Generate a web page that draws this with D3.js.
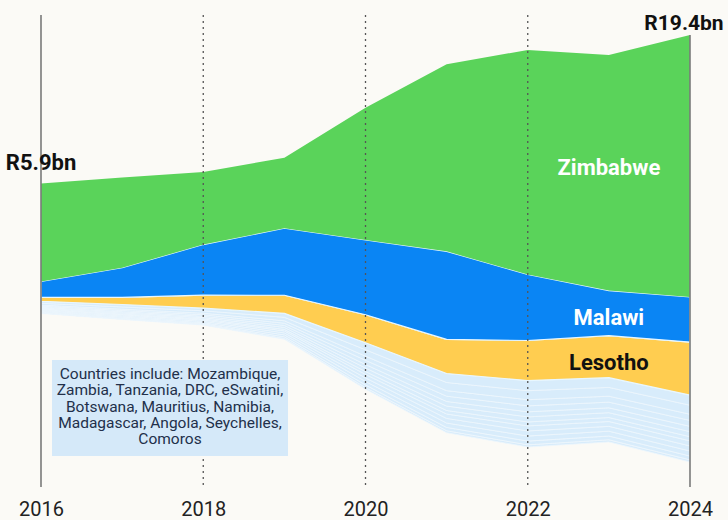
<!DOCTYPE html>
<html>
<head>
<meta charset="utf-8">
<script src="https://cdn.jsdelivr.net/npm/d3@7"></script>
<style>
  body { margin: 0; background: #fbfaf6; }
  svg { display: block; }
</style>
</head>
<body>
<svg id="chart"></svg>
<script>
// years on the x axis
var years = [2016, 2017, 2018, 2019, 2020, 2021, 2022, 2023, 2024];
var tickYears = [2016, 2018, 2020, 2022, 2024];

// values in R bn
var zimbabwe = [4.45, 4.1, 3.3, 3.2, 6.0, 8.5, 10.2, 10.7, 11.9];
var malawi = [0.72, 1.35, 2.3, 3.05, 3.4, 4.0, 3.0, 2.05, 2.05];
var lesotho = [0.18, 0.32, 0.59, 0.82, 1.27, 1.55, 1.82, 1.91, 2.41];

// the smaller countries (thin light blue bands)
var mozambique = [0.09, 0.11, 0.12, 0.18, 0.32, 0.41, 0.46, 0.44, 0.46];
var zambia = [0.08, 0.10, 0.11, 0.16, 0.29, 0.37, 0.41, 0.40, 0.41];
var tanzania = [0.05, 0.06, 0.07, 0.11, 0.19, 0.25, 0.28, 0.27, 0.28];
var drc = [0.05, 0.06, 0.07, 0.10, 0.19, 0.24, 0.27, 0.26, 0.27];
var eswatini = [0.04, 0.05, 0.06, 0.09, 0.16, 0.21, 0.23, 0.22, 0.24];
var botswana = [0.04, 0.05, 0.06, 0.09, 0.16, 0.20, 0.23, 0.22, 0.23];
var mauritius = [0.03, 0.04, 0.05, 0.07, 0.13, 0.16, 0.18, 0.18, 0.19];
var namibia = [0.04, 0.05, 0.06, 0.09, 0.16, 0.20, 0.23, 0.22, 0.23];
var madagascar = [0.04, 0.05, 0.06, 0.09, 0.16, 0.21, 0.23, 0.22, 0.23];
var angola = [0.04, 0.05, 0.05, 0.09, 0.16, 0.20, 0.23, 0.22, 0.23];
var seychelles = [0.03, 0.04, 0.04, 0.07, 0.12, 0.15, 0.17, 0.17, 0.17];
var comoros = [0.02, 0.02, 0.02, 0.04, 0.07, 0.09, 0.10, 0.10, 0.10];

// bottom -> top
var seriesNames = ["Comoros", "Seychelles", "Angola", "Madagascar", "Namibia", "Mauritius",
  "Botswana", "eSwatini", "DRC", "Tanzania", "Zambia", "Mozambique",
  "Lesotho", "Malawi", "Zimbabwe"];
var seriesValues = [comoros, seychelles, angola, madagascar, namibia, mauritius,
  botswana, eswatini, drc, tanzania, zambia, mozambique,
  lesotho, malawi, zimbabwe];

var noteLines = ["Countries include: Mozambique,", "Zambia, Tanzania, DRC, eSwatini,",
  "Botswana, Mauritius, Namibia,", "Madagascar, Angola, Seychelles,", "Comoros"];

var width = 728, height = 520;

var svg = d3.select("#chart")
  .attr("width", width)
  .attr("height", height)
  .style("font-family", "Roboto, 'Noto Sans', sans-serif");

svg.append("rect")
  .attr("width", width)
  .attr("height", height)
  .attr("fill", "#fbfaf6");

// build rows for d3.stack
var rows = years.map(function(yr, i) {
  var r = {year: yr};
  seriesNames.forEach(function(n, j) { r[n] = seriesValues[j][i]; });
  return r;
});

var totals = years.map(function(yr, i) {
  return d3.sum(seriesValues, function(v) { return v[i]; });
});

var stack = d3.stack()
  .keys(seriesNames)
  .order(d3.stackOrderNone)
  .offset(d3.stackOffsetSilhouette);
var series = stack(rows);

var x = d3.scaleLinear()
  .domain([2016, 2024])
  .range([41, 690]);

var y = d3.scaleLinear()
  .domain([-9.7, 9.7])
  .range([462, 35]);

function colour(name) {
  if (name == "Zimbabwe") return "#5ad35a";
  if (name == "Malawi") return "#0a85f4";
  if (name == "Lesotho") return "#ffcd50";
  return "#d8ecfb";
}

var area = d3.area()
  .x(function(d) { return x(d.data.year); })
  .y0(function(d) { return y(d[0]); })
  .y1(function(d) { return y(d[1]); });

svg.append("g")
  .selectAll("path")
  .data(series)
  .enter()
  .append("path")
  .attr("d", area)
  .attr("fill", function(d) { return colour(d.key); })
  .attr("stroke", function(d) {
    if (d.key == "Zimbabwe") return "none";
    if (d.key == "Malawi" || d.key == "Lesotho") return "#e8f7ff";
    return "#edf6fd";
  })
  .attr("stroke-width", function(d) { return (d.key == "Malawi" || d.key == "Lesotho") ? 1.2 : 0.8; })
  .attr("stroke-linejoin", "round");

// vertical grid lines
var topSeries = series[series.length - 1];
svg.append("g")
  .selectAll("line")
  .data(tickYears)
  .enter()
  .append("line")
  .attr("x1", function(d) { return x(d); })
  .attr("x2", function(d) { return x(d); })
  .attr("y1", function(d) { return d == 2024 ? y(topSeries[8][1]) : 15; })
  .attr("y2", 487)
  .attr("stroke", function(d) { return (d == 2016 || d == 2024) ? "#7a7a7a" : "#555"; })
  .attr("stroke-width", function(d) { return (d == 2016 || d == 2024) ? 1.6 : 1.3; })
  .attr("stroke-dasharray", function(d) { return (d == 2016 || d == 2024) ? null : "2,4"; });

// x axis
var axis = svg.append("g")
  .attr("transform", "translate(0,490)")
  .call(d3.axisBottom(x).tickValues(tickYears).tickFormat(d3.format("d")).tickSize(0).tickPadding(12));
axis.select(".domain").remove();
axis.selectAll("text")
  .style("font-family", "Roboto, sans-serif")
  .style("font-size", "20px")
  .attr("fill", "#222");

// total labels
svg.append("text")
  .attr("x", x(2016))
  .attr("y", y(topSeries[0][1]) - 14)
  .attr("text-anchor", "middle")
  .style("font-size", "22px")
  .style("font-weight", "bold")
  .style("fill", "#111")
  .text("R" + totals[0].toFixed(1) + "bn");

svg.append("text")
  .attr("x", x(2024) - 6)
  .attr("y", y(topSeries[8][1]) - 5)
  .attr("text-anchor", "middle")
  .style("font-size", "21px")
  .style("font-weight", "bold")
  .style("fill", "#111")
  .text("R" + totals[8].toFixed(1) + "bn");

// series labels, placed in the 2023 band
var labelled = [
  {name: "Zimbabwe", fill: "#ffffff", shift: 2},
  {name: "Malawi", fill: "#ffffff", shift: 12},
  {name: "Lesotho", fill: "#111111", shift: 13}
];
svg.append("g")
  .selectAll("text")
  .data(labelled)
  .enter()
  .append("text")
  .attr("x", x(2023))
  .attr("y", function(d) {
    var s = series[seriesNames.indexOf(d.name)][7];
    return y((s[0] + s[1]) / 2) + d.shift;
  })
  .attr("text-anchor", "middle")
  .style("font-size", "22px")
  .style("font-weight", "bold")
  .style("fill", function(d) { return d.fill; })
  .text(function(d) { return d.name; });

// note box for the smaller countries
svg.append("rect")
  .attr("x", 52)
  .attr("y", 360)
  .attr("width", 236)
  .attr("height", 96)
  .attr("fill", "#d5e9f9");

svg.append("g")
  .selectAll("text")
  .data(noteLines)
  .enter()
  .append("text")
  .attr("x", 170)
  .attr("y", function(d, i) { return 379 + i * 16.3; })
  .attr("text-anchor", "middle")
  .style("font-size", "15.5px")
  .style("fill", "#22304a")
  .text(function(d) { return d; });
</script>
</body>
</html>
